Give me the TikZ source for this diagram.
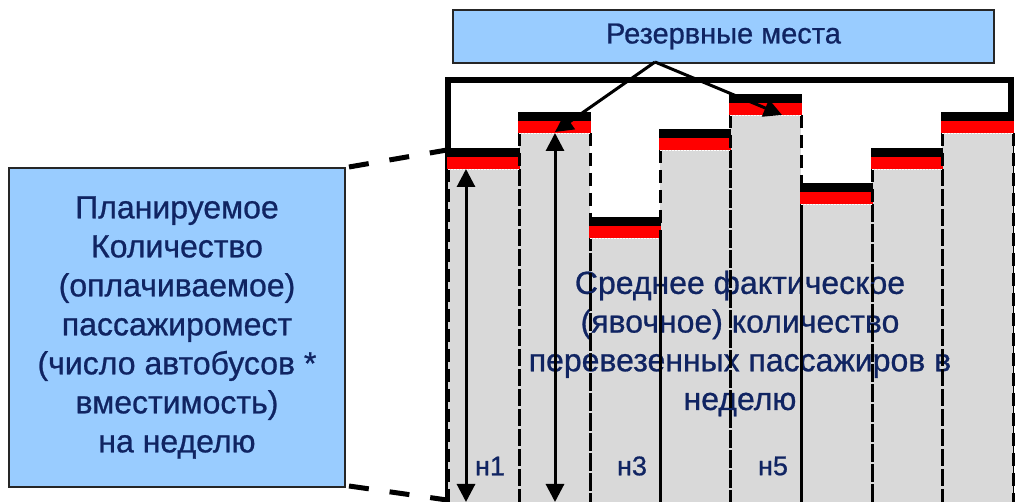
\documentclass[tikz,border=0pt]{standalone}
\usepackage{fontspec}
\setmainfont[FakeBold=0.8]{Liberation Sans}
\usetikzlibrary{arrows.meta}
\definecolor{navy}{RGB}{16,36,98}
\definecolor{boxblue}{RGB}{153,204,255}
\definecolor{bargrey}{RGB}{217,217,217}
\begin{document}
\begin{tikzpicture}[x=1pt,y=-1pt,
  bluebox/.style={draw=black!85, line width=2pt, fill=boxblue, text=navy, align=center, inner sep=0pt},
  sidedash/.style={draw=black, line width=3pt, dash pattern=on 13pt off 7pt},
  arr/.style={line width=3pt, -{Triangle[length=18pt,width=18pt]}},
  darr/.style={line width=3pt, {Triangle[length=18pt,width=18pt]}-{Triangle[length=18pt,width=18pt]}},
  link/.style={line width=5pt, dash pattern=on 20pt off 21pt},
  lbl/.style={text=navy, font=\fontsize{27}{30}\selectfont, inner sep=0pt}]
\useasboundingbox (0,0) rectangle (1018,502);
\clip (0,0) rectangle (1018,502);
% frame of the chart
\draw[line width=6pt] (448,80) rectangle (1011,560);
% bars: fills first
\foreach \l/\r/\t in {448/519/148, 519/590/112, 590/660/217, 660/730/129, 730/801/94, 801/872/183, 872/942/148, 942/1013/112} {
  \fill[bargrey] (\l,\t) rectangle (\r,540);
}
% middle text
\node[text=navy, align=center, font=\fontsize{32}{38.7}\selectfont, inner sep=0pt] (mid) at (740,343.5)
  {Среднее фактическое\\(явочное) количество\\перевезенных пассажиров в\\неделю};
% bar edges and caps
\foreach \l/\r/\t in {448/519/148, 519/590/112, 590/660/217, 660/730/129, 730/801/94, 801/872/183, 872/942/148, 942/1013/112} {
  \draw[sidedash] (\l,\t+21) -- (\l,540) (\r,\t+21) -- (\r,540);
  \fill[red] (\l-1,\t+9) rectangle (\r+1,\t+21);
  \fill[black] (\l-1,\t) rectangle (\r+1,\t+9);
  \draw[white, line width=0.8pt, dash pattern=on 1.5pt off 1.5pt] (\l,\t+21) -- (\r,\t+21);
}
% boxes
\node[bluebox, minimum width=541pt, minimum height=53pt, font=\fontsize{29}{34}\selectfont] (res) at (723.5,36.5) {Резервные места};
\node[bluebox, minimum width=336pt, minimum height=319pt, font=\fontsize{32}{39}\selectfont] (plan) at (177,327.5)
  {Планируемое\\Количество\\(оплачиваемое)\\пассажиромест\\(число автобусов *\\вместимость)\\на неделю};
% labels
\node[lbl] (n1) at (490,466) {н1};
\node[lbl] (n3) at (632,466) {н3};
\node[lbl] (n5) at (773,466) {н5};
% coordinates
\coordinate (src) at (655,62);
\coordinate (tip2) at (555,132);
\coordinate (tip5) at (782,115);
\coordinate (b1top) at (466,169);
\coordinate (b1bot) at (466,502);
\coordinate (b2top) at (555,133);
\coordinate (b2bot) at (555,502);
\coordinate (ctop) at (447,150);
\coordinate (cbot) at (447,500);
% connectors
\draw[arr] (src) -- (tip2);
\draw[arr] (src) -- (tip5);
\draw[darr] (b1top) -- (b1bot);
\draw[darr] (b2top) -- (b2bot);
\draw[link] (plan.north east) ++(3,0) -- (ctop);
\draw[link] (plan.south east) ++(3,-2) -- (cbot);
\end{tikzpicture}
\end{document}
